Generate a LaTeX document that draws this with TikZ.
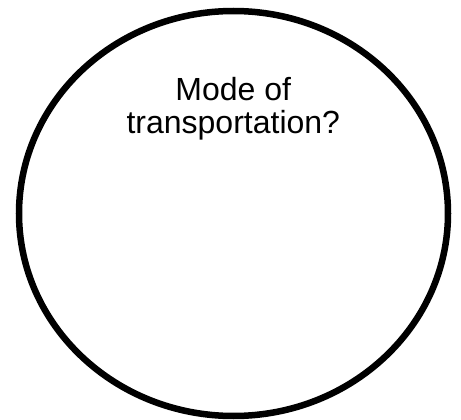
\documentclass[tikz,border=0pt]{standalone}
\usepackage{fontspec}
\setmainfont{Liberation Sans}
\usetikzlibrary{shapes.geometric}
\tikzset{
  bubble/.style={draw=black, line width=6.5pt, ellipse, inner sep=0pt,
    minimum width=429pt, minimum height=405pt},
  label/.style={align=center, inner sep=0pt, font=\fontsize{32}{34}\selectfont}
}
\begin{document}
\begin{tikzpicture}[x=1pt,y=-1pt]
\useasboundingbox (0,0) rectangle (461,420);
\node[bubble] (circ) at (233.5,213.5) {};
\node[label, anchor=base] (q) at (233.3,134) {Mode of\\transportation?};
\end{tikzpicture}
\end{document}
